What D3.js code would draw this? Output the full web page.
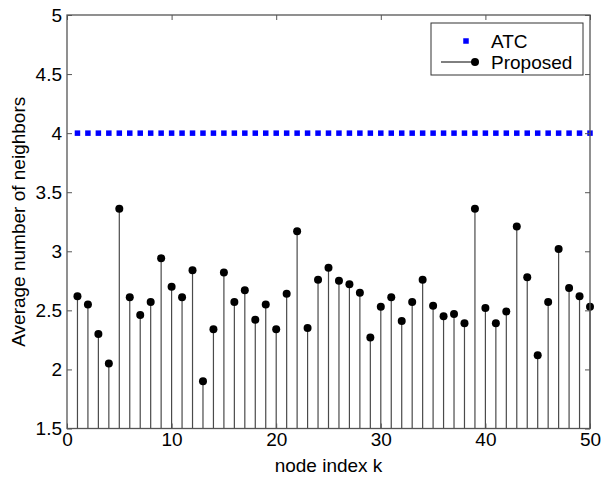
<!DOCTYPE html>
<html>
<head>
<meta charset="utf-8">
<script src="https://cdn.jsdelivr.net/npm/d3@7"></script>
<style>
  body { margin: 0; background: #fff; }
  svg text { font-family: "Liberation Sans", Arial, sans-serif; fill: #000; }
</style>
</head>
<body>
<svg id="stem-chart" width="601" height="478"></svg>
<script>
// node index k
var nodeIndex = [1, 2, 3, 4, 5, 6, 7, 8, 9, 10, 11, 12, 13, 14, 15, 16, 17, 18, 19, 20,
                 21, 22, 23, 24, 25, 26, 27, 28, 29, 30, 31, 32, 33, 34, 35, 36, 37, 38, 39, 40,
                 41, 42, 43, 44, 45, 46, 47, 48, 49, 50];
// ATC - average number of neighbors
var atcValues = [4, 4, 4, 4, 4, 4, 4, 4, 4, 4, 4, 4, 4, 4, 4, 4, 4, 4, 4, 4,
                 4, 4, 4, 4, 4, 4, 4, 4, 4, 4, 4, 4, 4, 4, 4, 4, 4, 4, 4, 4,
                 4, 4, 4, 4, 4, 4, 4, 4, 4, 4];
// Proposed - average number of neighbors
var proposedValues = [2.62, 2.55, 2.30, 2.05, 3.36, 2.61, 2.46, 2.57, 2.94, 2.70,
                      2.61, 2.84, 1.90, 2.34, 2.82, 2.57, 2.67, 2.42, 2.55, 2.34,
                      2.64, 3.17, 2.35, 2.76, 2.86, 2.75, 2.72, 2.65, 2.27, 2.53,
                      2.61, 2.41, 2.57, 2.76, 2.54, 2.45, 2.47, 2.39, 3.36, 2.52,
                      2.39, 2.49, 3.21, 2.78, 2.12, 2.57, 3.02, 2.69, 2.62, 2.53];
var xTicks = [0, 10, 20, 30, 40, 50];
var yTicks = [1.5, 2, 2.5, 3, 3.5, 4, 4.5, 5];
var seriesNames = ["ATC", "Proposed"];

var svg = d3.select("#stem-chart");

// plot box (note: "top" is reserved on window, so use plot* names)
var plotLeft = 67, plotRight = 590, plotTop = 15, plotBottom = 428.5;
var frameColor = "#555";
var fontSize = "19px";

var x = d3.scaleLinear().domain([0, 50]).range([plotLeft, plotRight]);
var y = d3.scaleLinear().domain([1.5, 5]).range([plotBottom, plotTop]);

// stems
var stems = svg.append("g");
stems.selectAll("line")
    .data(proposedValues)
    .enter().append("line")
    .attr("x1", function(d, i) { return x(nodeIndex[i]); })
    .attr("x2", function(d, i) { return x(nodeIndex[i]); })
    .attr("y1", y(1.5))
    .attr("y2", function(d) { return y(d); })
    .attr("stroke", "#4a4a4a")
    .attr("stroke-width", 1.2);

stems.selectAll("circle")
    .data(proposedValues)
    .enter().append("circle")
    .attr("cx", function(d, i) { return x(nodeIndex[i]); })
    .attr("cy", function(d) { return y(d); })
    .attr("r", 4)
    .attr("fill", "#000");

// ATC squares
var sq = 5.5;
svg.append("g").selectAll("rect")
    .data(atcValues)
    .enter().append("rect")
    .attr("x", function(d, i) { return x(nodeIndex[i]) - sq / 2; })
    .attr("y", function(d) { return y(d) - sq / 2; })
    .attr("width", sq)
    .attr("height", sq)
    .attr("fill", "#0000ff");

// axes - ticks pointing inward
function styleAxis(g) {
    g.select(".domain").remove();
    g.selectAll(".tick line").attr("stroke", frameColor);
    g.selectAll(".tick text").style("font-size", fontSize).attr("fill", "#000");
}

svg.append("g")
    .attr("transform", "translate(0," + plotBottom + ")")
    .call(d3.axisBottom(x).tickValues(xTicks).tickSizeInner(-5).tickSizeOuter(0).tickPadding(4))
    .call(styleAxis);

svg.append("g")
    .attr("transform", "translate(0," + plotTop + ")")
    .call(d3.axisTop(x).tickValues(xTicks).tickSizeInner(-5).tickSizeOuter(0).tickFormat(""))
    .call(styleAxis);

svg.append("g")
    .attr("transform", "translate(" + plotLeft + ",0)")
    .call(d3.axisLeft(y).tickValues(yTicks).tickSizeInner(-5).tickSizeOuter(0).tickPadding(5).tickFormat(d3.format("")))
    .call(styleAxis);

svg.append("g")
    .attr("transform", "translate(" + plotRight + ",0)")
    .call(d3.axisRight(y).tickValues(yTicks).tickSizeInner(-5).tickSizeOuter(0).tickFormat(""))
    .call(styleAxis);

svg.append("rect")
    .attr("x", plotLeft)
    .attr("y", plotTop)
    .attr("width", plotRight - plotLeft)
    .attr("height", plotBottom - plotTop)
    .attr("fill", "none")
    .attr("stroke", frameColor)
    .attr("stroke-width", 1.3);

// axis labels
svg.append("text")
    .attr("x", (plotLeft + plotRight) / 2)
    .attr("y", 472)
    .attr("text-anchor", "middle")
    .style("font-size", fontSize)
    .text("node index k");

svg.append("text")
    .attr("text-anchor", "middle")
    .attr("transform", "translate(25," + ((plotTop + plotBottom) / 2) + ")rotate(-90)")
    .style("font-size", fontSize)
    .text("Average number of neighbors");

// legend
var legend = svg.append("g");
legend.append("rect")
    .attr("x", 431)
    .attr("y", 23)
    .attr("width", 152)
    .attr("height", 52)
    .attr("fill", "#fff")
    .attr("stroke", "#333")
    .attr("stroke-width", 1);

legend.append("rect")
    .attr("x", 466 - sq / 2)
    .attr("y", 41 - sq / 2)
    .attr("width", sq)
    .attr("height", sq)
    .attr("fill", "#0000ff");

legend.append("line")
    .attr("x1", 441).attr("x2", 475)
    .attr("y1", 62).attr("y2", 62)
    .attr("stroke", "#000")
    .attr("stroke-width", 1);

legend.append("circle")
    .attr("cx", 475).attr("cy", 62).attr("r", 4)
    .attr("fill", "#000");

legend.selectAll("text.lbl")
    .data(seriesNames)
    .enter().append("text")
    .attr("class", "lbl")
    .attr("x", 491)
    .attr("y", function(d, i) { return 41 + i * 21; })
    .attr("dy", "0.35em")
    .style("font-size", fontSize)
    .text(function(d) { return d; });
</script>
</body>
</html>
